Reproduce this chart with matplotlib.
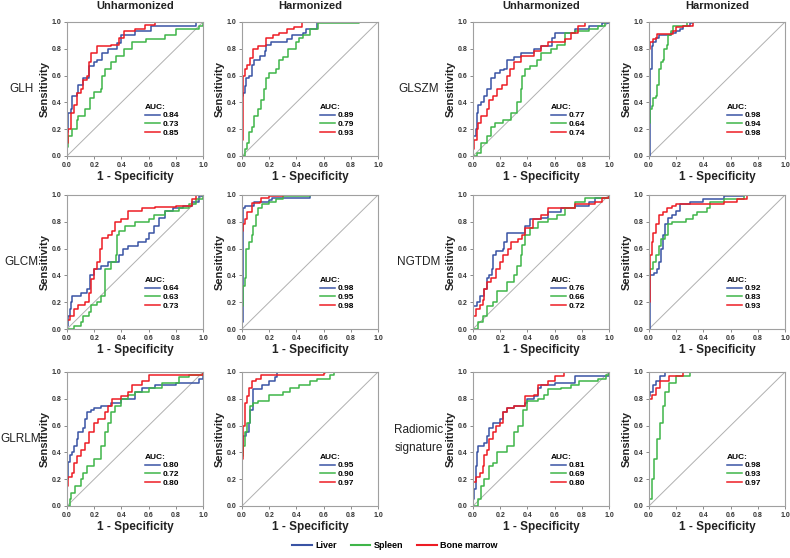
import matplotlib
matplotlib.use("Agg")
import matplotlib.pyplot as plt
from matplotlib.lines import Line2D

plt.rcParams["font.family"] = ["Liberation Sans", "DejaVu Sans"]

# ROC points (1 - specificity, sensitivity)
glh_u_liver = [(0,0),(0,0.18),(0.01,0.32),(0.03,0.35),(0.04,0.45),(0.07,0.47),(0.08,0.53),(0.12,0.58),(0.16,0.67),(0.2,0.7),(0.22,0.72),(0.26,0.77),(0.3,0.8),(0.37,0.84),(0.4,0.9),(0.5,0.93),(0.62,0.97),(0.95,1.0),(1,1)]
glh_u_spleen = [(0,0),(0,0.07),(0.01,0.15),(0.04,0.2),(0.07,0.27),(0.08,0.3),(0.13,0.35),(0.17,0.43),(0.2,0.48),(0.25,0.5),(0.26,0.6),(0.28,0.65),(0.32,0.7),(0.36,0.75),(0.42,0.8),(0.48,0.85),(0.58,0.87),(0.72,0.9),(0.8,0.95),(0.97,0.97),(1,1)]
glh_u_marrow = [(0,0),(0,0.1),(0.01,0.2),(0.03,0.32),(0.05,0.38),(0.07,0.47),(0.1,0.5),(0.12,0.57),(0.15,0.6),(0.16,0.7),(0.18,0.77),(0.22,0.82),(0.32,0.83),(0.38,0.88),(0.42,0.93),(0.5,0.95),(0.57,0.98),(0.65,1.0),(1,1)]

glh_h_liver = [(0,0),(0,0.45),(0.01,0.47),(0.02,0.52),(0.03,0.58),(0.05,0.6),(0.07,0.68),(0.09,0.72),(0.13,0.75),(0.17,0.78),(0.18,0.83),(0.21,0.85),(0.33,0.87),(0.37,0.9),(0.45,0.92),(0.47,0.95),(0.55,1.0),(1,1)]
glh_h_spleen = [(0,0),(0.02,0.05),(0.04,0.1),(0.05,0.18),(0.07,0.22),(0.09,0.3),(0.12,0.35),(0.14,0.42),(0.16,0.5),(0.18,0.58),(0.2,0.62),(0.25,0.65),(0.27,0.72),(0.3,0.74),(0.34,0.8),(0.4,0.85),(0.42,0.88),(0.45,0.9),(0.5,0.95),(0.56,0.99),(0.86,1.0),(1,1)]
glh_h_marrow = [(0,0),(0,0.12),(0.01,0.4),(0.01,0.6),(0.02,0.65),(0.04,0.68),(0.06,0.73),(0.08,0.8),(0.12,0.82),(0.18,0.88),(0.23,0.9),(0.27,0.92),(0.33,0.95),(0.38,0.96),(0.44,1.0),(1,1)]

glszm_u_liver = [(0,0),(0,0.15),(0.02,0.2),(0.03,0.32),(0.04,0.38),(0.06,0.4),(0.08,0.45),(0.1,0.5),(0.13,0.58),(0.16,0.62),(0.2,0.64),(0.23,0.65),(0.25,0.72),(0.3,0.74),(0.35,0.77),(0.45,0.8),(0.5,0.82),(0.58,0.88),(0.6,0.92),(0.68,0.92),(0.75,0.95),(0.85,0.97),(0.95,0.99),(1,1)]
glszm_u_spleen = [(0,0),(0.03,0.02),(0.06,0.1),(0.1,0.15),(0.13,0.22),(0.16,0.25),(0.22,0.27),(0.28,0.32),(0.32,0.4),(0.35,0.5),(0.36,0.6),(0.38,0.65),(0.42,0.67),(0.47,0.72),(0.5,0.77),(0.57,0.8),(0.62,0.83),(0.68,0.92),(0.75,0.93),(0.85,0.95),(0.92,0.97),(0.97,1.0),(1,1)]
glszm_u_marrow = [(0,0),(0,0.05),(0.01,0.12),(0.03,0.2),(0.04,0.25),(0.06,0.3),(0.1,0.35),(0.12,0.42),(0.15,0.45),(0.18,0.5),(0.21,0.53),(0.25,0.6),(0.27,0.65),(0.3,0.7),(0.35,0.75),(0.45,0.78),(0.5,0.82),(0.55,0.85),(0.62,0.85),(0.68,0.87),(0.72,0.92),(0.77,0.97),(0.82,1.0),(1,1)]

glszm_h_liver = [(0,0),(0.01,0.65),(0.02,0.82),(0.03,0.85),(0.05,0.88),(0.07,0.9),(0.14,0.9),(0.16,0.92),(0.2,0.93),(0.23,0.95),(0.25,0.97),(0.3,0.99),(0.32,1.0),(1,1)]
glszm_h_spleen = [(0,0),(0,0.25),(0.01,0.35),(0.02,0.37),(0.03,0.43),(0.05,0.45),(0.06,0.53),(0.07,0.65),(0.09,0.7),(0.1,0.72),(0.11,0.8),(0.13,0.83),(0.14,0.9),(0.16,0.93),(0.18,0.97),(0.28,1.0),(1,1)]
glszm_h_marrow = [(0,0),(0,0.8),(0.01,0.85),(0.03,0.87),(0.05,0.88),(0.06,0.91),(0.14,0.91),(0.18,0.93),(0.2,0.96),(0.25,0.97),(0.32,0.98),(0.32,1.0),(1,1)]

glcm_u_liver = [(0,0),(0,0.02),(0.01,0.1),(0.02,0.15),(0.03,0.2),(0.04,0.25),(0.1,0.27),(0.15,0.3),(0.17,0.4),(0.2,0.45),(0.25,0.47),(0.3,0.5),(0.38,0.55),(0.41,0.6),(0.45,0.62),(0.52,0.65),(0.58,0.67),(0.6,0.72),(0.64,0.77),(0.68,0.83),(0.72,0.88),(0.78,0.9),(0.85,0.92),(0.92,0.95),(0.97,0.99),(1,1)]
glcm_u_spleen = [(0,0),(0.05,0.02),(0.1,0.05),(0.12,0.1),(0.16,0.13),(0.18,0.18),(0.22,0.2),(0.25,0.25),(0.28,0.45),(0.32,0.5),(0.36,0.55),(0.37,0.7),(0.38,0.73),(0.43,0.77),(0.5,0.8),(0.6,0.82),(0.64,0.85),(0.72,0.88),(0.82,0.9),(0.9,0.93),(0.95,0.97),(1,1)]
glcm_u_marrow = [(0,0),(0,0.07),(0.02,0.1),(0.05,0.15),(0.08,0.18),(0.13,0.2),(0.16,0.27),(0.18,0.37),(0.2,0.45),(0.22,0.5),(0.24,0.6),(0.26,0.68),(0.3,0.7),(0.33,0.73),(0.35,0.8),(0.4,0.82),(0.45,0.88),(0.55,0.9),(0.65,0.91),(0.8,0.92),(0.92,0.97),(0.95,1.0),(1,1)]

glcm_h_liver = [(0,0),(0,0.05),(0.01,0.9),(0.02,0.92),(0.08,0.92),(0.09,0.95),(0.2,0.96),(0.22,0.98),(0.5,0.98),(0.5,1.0),(1,1)]
glcm_h_spleen = [(0,0),(0,0.17),(0.01,0.32),(0.02,0.38),(0.03,0.6),(0.05,0.65),(0.07,0.7),(0.08,0.77),(0.1,0.85),(0.12,0.9),(0.15,0.93),(0.2,0.95),(0.25,0.97),(0.3,0.99),(0.5,1.0),(1,1)]
glcm_h_marrow = [(0,0),(0,0.73),(0.01,0.78),(0.02,0.82),(0.04,0.87),(0.07,0.94),(0.13,0.95),(0.14,0.98),(0.2,0.99),(0.3,1.0),(1,1)]

ngtdm_u_liver = [(0,0),(0,0.17),(0.03,0.2),(0.05,0.25),(0.08,0.3),(0.1,0.38),(0.12,0.4),(0.14,0.45),(0.15,0.55),(0.17,0.58),(0.22,0.6),(0.23,0.65),(0.25,0.72),(0.35,0.72),(0.38,0.77),(0.42,0.82),(0.5,0.83),(0.55,0.87),(0.65,0.9),(0.75,0.92),(0.85,0.95),(0.9,0.98),(1,1)]
ngtdm_u_spleen = [(0,0),(0.04,0.05),(0.07,0.1),(0.1,0.17),(0.15,0.2),(0.18,0.28),(0.25,0.35),(0.3,0.4),(0.32,0.47),(0.35,0.55),(0.36,0.63),(0.38,0.7),(0.42,0.75),(0.48,0.8),(0.55,0.82),(0.62,0.85),(0.68,0.9),(0.75,0.95),(0.82,0.98),(1,1)]
ngtdm_u_marrow = [(0,0),(0,0.1),(0.02,0.15),(0.05,0.18),(0.07,0.22),(0.08,0.3),(0.1,0.35),(0.13,0.38),(0.17,0.45),(0.2,0.5),(0.22,0.55),(0.26,0.6),(0.28,0.65),(0.33,0.67),(0.36,0.7),(0.38,0.75),(0.44,0.82),(0.5,0.85),(0.55,0.9),(0.75,0.93),(0.9,0.95),(0.95,0.98),(1,1)]

ngtdm_h_liver = [(0,0),(0.01,0.4),(0.04,0.42),(0.06,0.45),(0.07,0.5),(0.09,0.6),(0.1,0.7),(0.12,0.78),(0.14,0.83),(0.17,0.85),(0.2,0.88),(0.23,0.93),(0.3,0.95),(0.4,0.97),(0.55,0.99),(0.7,1.0),(1,1)]
ngtdm_h_spleen = [(0,0),(0,0.37),(0.01,0.45),(0.03,0.5),(0.05,0.55),(0.07,0.62),(0.09,0.67),(0.12,0.7),(0.14,0.78),(0.17,0.8),(0.27,0.82),(0.32,0.85),(0.35,0.87),(0.43,0.9),(0.45,0.95),(0.55,0.97),(0.7,1.0),(1,1)]
ngtdm_h_marrow = [(0,0),(0,0.2),(0.01,0.55),(0.02,0.65),(0.03,0.72),(0.05,0.78),(0.07,0.85),(0.1,0.87),(0.13,0.9),(0.17,0.92),(0.2,0.93),(0.52,0.93),(0.55,0.95),(0.65,0.97),(0.72,1.0),(1,1)]

glrlm_u_liver = [(0,0),(0,0.2),(0.01,0.33),(0.02,0.38),(0.04,0.4),(0.05,0.45),(0.07,0.5),(0.08,0.55),(0.12,0.58),(0.13,0.65),(0.15,0.7),(0.18,0.72),(0.2,0.73),(0.25,0.75),(0.32,0.77),(0.4,0.8),(0.5,0.85),(0.55,0.88),(0.65,0.9),(0.8,0.92),(0.97,0.95),(1,1)]
glrlm_u_spleen = [(0,0),(0.02,0.05),(0.03,0.1),(0.06,0.15),(0.1,0.2),(0.12,0.25),(0.15,0.3),(0.2,0.35),(0.25,0.45),(0.28,0.55),(0.3,0.62),(0.32,0.7),(0.35,0.75),(0.4,0.8),(0.45,0.83),(0.5,0.85),(0.6,0.88),(0.7,0.92),(0.82,0.96),(0.9,0.98),(1,1)]
glrlm_u_marrow = [(0,0),(0,0.15),(0.01,0.22),(0.04,0.25),(0.05,0.32),(0.07,0.37),(0.1,0.42),(0.13,0.47),(0.16,0.55),(0.2,0.62),(0.23,0.65),(0.28,0.7),(0.3,0.75),(0.33,0.8),(0.4,0.82),(0.45,0.85),(0.48,0.9),(0.55,0.93),(0.6,0.98),(0.8,0.98),(1,1)]

glrlm_h_liver = [(0,0),(0,0.4),(0.01,0.52),(0.03,0.55),(0.05,0.62),(0.06,0.72),(0.08,0.87),(0.15,0.9),(0.2,0.93),(0.24,0.96),(0.26,1.0),(1,1)]
glrlm_h_spleen = [(0,0),(0,0.37),(0.01,0.45),(0.02,0.55),(0.04,0.62),(0.06,0.75),(0.08,0.77),(0.12,0.78),(0.2,0.83),(0.3,0.85),(0.35,0.88),(0.42,0.9),(0.5,0.93),(0.55,0.95),(0.65,0.98),(0.68,1.0),(1,1)]
glrlm_h_marrow = [(0,0),(0,0.35),(0.01,0.6),(0.02,0.77),(0.04,0.82),(0.05,0.88),(0.07,0.93),(0.1,0.95),(0.14,0.98),(0.6,0.99),(0.61,1.0),(1,1)]

rad_u_liver = [(0,0),(0,0.05),(0.01,0.13),(0.02,0.3),(0.03,0.4),(0.04,0.45),(0.08,0.47),(0.1,0.52),(0.12,0.58),(0.15,0.62),(0.2,0.65),(0.22,0.7),(0.25,0.73),(0.3,0.75),(0.38,0.77),(0.4,0.8),(0.45,0.82),(0.48,0.88),(0.5,0.9),(0.6,0.92),(0.75,0.97),(1,0.98),(1,1)]
rad_u_spleen = [(0,0),(0.04,0.05),(0.06,0.15),(0.08,0.2),(0.12,0.3),(0.15,0.32),(0.18,0.4),(0.25,0.45),(0.3,0.55),(0.33,0.6),(0.37,0.72),(0.4,0.78),(0.48,0.8),(0.52,0.83),(0.55,0.87),(0.65,0.88),(0.72,0.9),(0.78,0.93),(0.92,0.95),(0.98,0.98),(1,1)]
rad_u_marrow = [(0,0),(0,0.18),(0.02,0.22),(0.05,0.25),(0.07,0.3),(0.08,0.38),(0.1,0.42),(0.12,0.5),(0.15,0.55),(0.17,0.6),(0.2,0.62),(0.22,0.7),(0.25,0.73),(0.3,0.75),(0.38,0.77),(0.38,0.82),(0.45,0.83),(0.48,0.9),(0.55,0.93),(0.6,0.97),(0.67,1.0),(1,1)]

rad_h_liver = [(0,0),(0,0.82),(0.01,0.85),(0.03,0.9),(0.05,0.93),(0.08,0.97),(0.12,1.0),(1,1)]
rad_h_spleen = [(0,0),(0,0.05),(0.02,0.2),(0.04,0.35),(0.06,0.5),(0.08,0.62),(0.1,0.75),(0.12,0.85),(0.15,0.92),(0.2,0.97),(0.3,1.0),(1,1)]
rad_h_marrow = [(0,0),(0,0.8),(0.02,0.83),(0.05,0.88),(0.08,0.93),(0.15,0.97),(0.25,1.0),(1,1)]

# AUC values: liver, spleen, bone marrow
auc_glh_u = ["0.84", "0.73", "0.85"]
auc_glh_h = ["0.89", "0.79", "0.93"]
auc_glszm_u = ["0.77", "0.64", "0.74"]
auc_glszm_h = ["0.98", "0.94", "0.98"]
auc_glcm_u = ["0.64", "0.63", "0.73"]
auc_glcm_h = ["0.98", "0.95", "0.98"]
auc_ngtdm_u = ["0.76", "0.66", "0.72"]
auc_ngtdm_h = ["0.92", "0.83", "0.93"]
auc_glrlm_u = ["0.80", "0.72", "0.80"]
auc_glrlm_h = ["0.95", "0.90", "0.97"]
auc_rad_u = ["0.81", "0.69", "0.80"]
auc_rad_h = ["0.98", "0.93", "0.97"]

organs = ["Liver", "Spleen", "Bone marrow"]
colors = ["#3953a4", "#3fb549", "#ed1c24"]
row_names = ["GLH", "GLSZM", "GLCM", "NGTDM", "GLRLM", "Radiomic\nsignature"]
ticks = [0.0, 0.2, 0.4, 0.6, 0.8, 1.0]

W, H = 790, 558
fig = plt.figure(figsize=(W / 100, H / 100), dpi=100)

col_left = [67, 242, 473, 649]
col_w = 136
row_top = [22, 195, 372]
row_h = 134
label_x = [21, None, 419, None]

panels = [
    (0, 0, [glh_u_liver, glh_u_spleen, glh_u_marrow], auc_glh_u),
    (0, 1, [glh_h_liver, glh_h_spleen, glh_h_marrow], auc_glh_h),
    (0, 2, [glszm_u_liver, glszm_u_spleen, glszm_u_marrow], auc_glszm_u),
    (0, 3, [glszm_h_liver, glszm_h_spleen, glszm_h_marrow], auc_glszm_h),
    (1, 0, [glcm_u_liver, glcm_u_spleen, glcm_u_marrow], auc_glcm_u),
    (1, 1, [glcm_h_liver, glcm_h_spleen, glcm_h_marrow], auc_glcm_h),
    (1, 2, [ngtdm_u_liver, ngtdm_u_spleen, ngtdm_u_marrow], auc_ngtdm_u),
    (1, 3, [ngtdm_h_liver, ngtdm_h_spleen, ngtdm_h_marrow], auc_ngtdm_h),
    (2, 0, [glrlm_u_liver, glrlm_u_spleen, glrlm_u_marrow], auc_glrlm_u),
    (2, 1, [glrlm_h_liver, glrlm_h_spleen, glrlm_h_marrow], auc_glrlm_h),
    (2, 2, [rad_u_liver, rad_u_spleen, rad_u_marrow], auc_rad_u),
    (2, 3, [rad_h_liver, rad_h_spleen, rad_h_marrow], auc_rad_h),
]

for r, c, curves, aucs in panels:
    left, top = col_left[c], row_top[r]
    ax = fig.add_axes([left / W, 1 - (top + row_h) / H, col_w / W, row_h / H])
    ax.plot([0, 1], [0, 1], color="#b0b0b0", lw=0.7)
    handles = []
    for pts, col in zip(curves, colors):
        xs = [p[0] for p in pts]
        ys = [p[1] for p in pts]
        ln, = ax.plot(xs, ys, color=col, lw=1.1, drawstyle="steps-post")
        handles.append(ln)
    ax.set_xlim(0, 1)
    ax.set_ylim(0, 1)
    ax.set_xticks(ticks)
    ax.set_yticks(ticks)
    ax.set_xticklabels(["%.1f" % t for t in ticks], fontweight="bold")
    ax.set_yticklabels(["%.1f" % t for t in ticks], fontweight="bold")
    ax.tick_params(labelsize=5, length=2, width=0.6, color="#777777", pad=2, labelcolor="#333333")
    for s in ax.spines.values():
        s.set_color("#a0a0a0")
        s.set_linewidth(0.8)
    ax.set_xlabel("1 - Specificity", fontsize=8.5, fontweight="bold", labelpad=1.5, color="#222222")
    ax.set_ylabel("Sensitivity", fontsize=8, fontweight="bold", labelpad=1, color="#222222")
    leg = ax.legend(handles, aucs, title="AUC:", loc="lower left", bbox_to_anchor=(0.54, 0.11),
                    frameon=False, prop={"size": 6, "weight": "bold"}, handlelength=1.8,
                    handletextpad=0.4, labelspacing=0.12, borderpad=0)
    leg.get_title().set_fontsize(6)
    leg.get_title().set_fontweight("bold")
    leg._legend_box.align = "left"
    if r == 0:
        ax.text(0.5, 1.08, "Unharmonized" if c % 2 == 0 else "Harmonized", transform=ax.transAxes,
                ha="center", va="bottom", fontsize=8, fontweight="bold", color="#222222")
    if c % 2 == 0:
        name = row_names[r * 2 + c // 2]
        fig.text(label_x[c] / W, 1 - (top + row_h / 2) / H, name, ha="center", va="center",
                 fontsize=8.5, linespacing=1.6, color="#222222")

legend_handles = [Line2D([], [], color=col, lw=1.5) for col in colors]
fig.legend(legend_handles, organs, loc="center", bbox_to_anchor=(0.5, 1 - 546 / H), ncol=3,
           frameon=False, prop={"size": 6.5, "weight": "bold"}, handlelength=2.2,
           columnspacing=1.5, handletextpad=0.4)

fig.savefig("out.png", dpi=100)
